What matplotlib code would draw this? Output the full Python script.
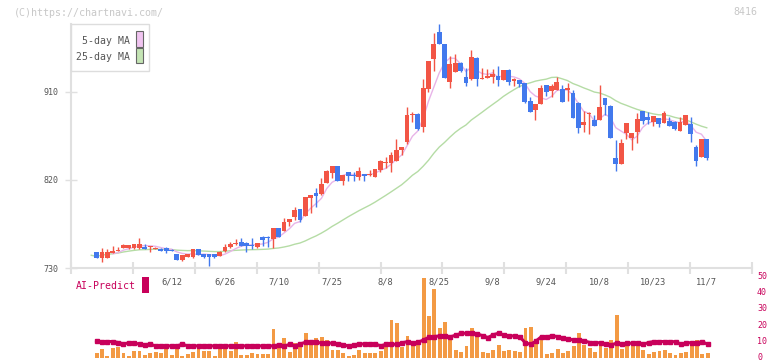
import numpy as np
import pandas as pd
import matplotlib
matplotlib.use("Agg")
import matplotlib.pyplot as plt
from matplotlib.patches import Rectangle

plt.rcParams['font.family'] = ['DejaVu Sans Mono']

# daily candles, 5/22 .. 11/7 (index 0 .. 115)
opens = [743, 746, 740.6, 740.6, 745.3, 747.5, 750.1, 750, 750.1, 750.1,
         751.8, 751.5, 749.8, 749.8, 750.5, 748.5, 744.3, 738.2, 741.6, 740.9,
         749.4, 744, 744, 744, 742.6, 747.5, 751.1, 754.5, 756.6, 755.5,
         754, 751, 762, 762, 760, 770.9, 767.8, 776.7, 781.8, 790.3,
         783.2, 801.9, 806.7, 805.7, 817.3, 827.5, 834.3, 819.3, 827.8, 825.1,
         823.4, 826.1, 825, 823.4, 830.2, 837.7, 837.7, 839.4, 850.7, 858.5,
         886.5, 887.5, 874.5, 913.1, 944.1, 971.7, 959.1, 920.6, 930.8, 940,
         925.3, 923, 945.1, 923.3, 924.7, 925.7, 926.7, 922.3, 932.5, 921.2,
         922.3, 918.9, 901.1, 891.6, 897.7, 917.2, 911.4, 912, 912.7, 912,
         909.3, 899.1, 876.2, 887.2, 881.4, 881.4, 903.5, 895.7, 842.8, 836.7,
         868.4, 863.3, 869.4, 890.9, 884.8, 879.3, 883.1, 878.6, 880.3, 879.7,
         870.4, 876.2, 877.3, 854.1, 843.9, 861.9]
highs = [743, 746.5, 750.8, 749.5, 752.5, 751, 754.2, 753.5, 755, 760.3,
         754.2, 752.5, 751, 750, 751, 749, 744.5, 743.5, 744.5, 749.5,
         749.5, 744.3, 744.3, 744.3, 747, 754.5, 756.9, 759.3, 760.3, 756.9,
         760.3, 756, 762.7, 762.7, 771, 771, 780.8, 780.5, 792, 790.5,
         802.9, 805, 811.5, 821.7, 830, 834.5, 834.5, 825.5, 828, 827.8,
         833, 826.5, 830.2, 831, 840, 843.9, 849, 861.9, 854, 895,
         889.9, 888, 923.3, 942, 970.7, 979.5, 959.5, 946.8, 948.9, 940.5,
         934.9, 953, 945.5, 934.2, 933.5, 933.5, 936.6, 932.8, 933, 924,
         922.5, 919, 904.5, 898, 917.2, 917.5, 918.2, 925.7, 917.2, 919.5,
         912, 899.5, 890.9, 889, 886.5, 917.2, 903.7, 896.7, 860.9, 861.9,
         878.5, 868.5, 888.9, 891, 889.9, 885.7, 883.3, 890.6, 884.8, 880,
         884.8, 886.7, 884.8, 855.8, 862, 862]
lows = [743, 740, 736.5, 740, 745, 747, 750, 749.5, 749, 749.5,
        749.5, 746, 749.5, 747, 745, 747, 738, 737.5, 741, 740.5,
        743, 740.5, 732.4, 740.5, 742, 746.7, 750.5, 754, 752.5, 746.7,
        749.4, 750.5, 752.8, 751.8, 750.5, 762, 767.5, 773.3, 779.1, 777.4,
        783, 785.9, 792.7, 805, 816.6, 822.4, 819, 814.9, 819.3, 819.3,
        820, 818.6, 824.5, 823, 828.5, 832.6, 827.8, 839, 845.6, 856.8,
        879, 871.1, 869.4, 909.7, 931.8, 959, 924.5, 914.4, 930.5, 930.1,
        916.5, 922.5, 916.5, 923, 924.5, 919.5, 916.1, 922, 917.2, 916.1,
        915.4, 899.1, 889.5, 881.4, 897.5, 906.2, 905.2, 911.5, 900, 901.1,
        883.5, 868.4, 869.4, 867, 875.5, 881, 886.5, 863, 829.5, 836.5,
        861.9, 850.7, 858.2, 877.3, 877.3, 875.2, 874.5, 878.5, 875.5, 871.1,
        870, 876, 859.2, 834.3, 843.5, 840.5]
closes = [743, 740.6, 746, 746, 747.4, 748.5, 753.2, 753.2, 754.2, 754.2,
          749.8, 752, 750.8, 747.7, 747.7, 747.7, 738.2, 743.3, 744, 749.4,
          743.3, 740.9, 740.9, 740.9, 746.7, 751.8, 754.2, 755.9, 752.8, 752.8,
          752.8, 755.9, 758.6, 761, 770.5, 762, 776.7, 780.1, 789.3, 779.1,
          802.3, 804.7, 804, 815.9, 829.5, 834.3, 819, 825.1, 824.4, 824.1,
          829.2, 824.4, 825.5, 830.9, 839.4, 838.7, 845.6, 850.7, 853.4, 886.5,
          887.2, 872.2, 914.4, 941.7, 959.1, 959.1, 924.6, 938.6, 940, 931.8,
          919.5, 945.8, 923.3, 924, 926.7, 928.4, 922.3, 932.5, 920.6, 923,
          918.2, 900.1, 889.9, 897.7, 914.1, 909.7, 916.1, 919.9, 900.1, 914.1,
          883.7, 873.5, 879.7, 888.9, 875.6, 895, 896.7, 863.3, 836.7, 858.2,
          878.3, 868.4, 882.4, 880.7, 881.4, 885.5, 877.3, 888.2, 875.6, 872.2,
          879.3, 886.5, 867, 839.4, 861.9, 842.8]

# volume panel, in units of the right axis (0-50)
volume = [0, 3.5, 5.8, 1.4, 6.6, 6.8, 3.1, 1.6, 4.8, 4.8,
          2.1, 3.5, 3.9, 3.3, 6.6, 2.1, 5.8, 1.6, 2.5, 3.9,
          6.6, 4.8, 4.8, 1.6, 6.6, 6.6, 4.8, 10.0, 2.1, 2.1,
          3.5, 2.5, 2.7, 2.7, 18.3, 6.6, 12.9, 3.9, 9.4, 9.2,
          16.0, 9.4, 12.9, 13.3, 11.4, 5.2, 5.2, 3.3, 1.4, 2.1,
          5.2, 3.3, 3.3, 3.3, 4.6, 7.1, 23.9, 22.1, 7.1, 13.9,
          8.1, 9.2, 49.6, 26.4, 43.3, 18.9, 22.7, 12.9, 5.2, 3.9,
          7.7, 18.9, 13.3, 3.9, 3.3, 5.2, 8.3, 4.6, 5.2, 4.6,
          3.9, 18.9, 19.6, 9.6, 13.3, 2.7, 3.3, 5.8, 3.3, 4.6,
          7.7, 15.6, 8.3, 6.4, 3.9, 9.6, 6.4, 11.4, 27.1, 5.8,
          8.3, 7.7, 7.7, 5.2, 2.7, 3.9, 4.6, 5.2, 3.3, 2.1,
          3.3, 3.9, 10.0, 11.4, 2.7, 3.3]
# AI-Predict line, starts at index 1
ai_predict = [10.8, 10.0, 10.4, 10.4, 9.8, 8.9, 9.6, 9.6, 8.7,
              8.5, 8.7, 7.7, 7.7, 7.7, 7.7, 7.7, 8.7, 7.7, 7.7,
              7.7, 7.7, 7.7, 7.7, 7.7, 7.7, 7.7, 7.7, 7.7, 7.7,
              7.7, 7.7, 7.7, 7.7, 7.7, 8.3, 7.5, 8.7, 7.7, 8.9,
              10.0, 10.0, 10.0, 9.4, 9.4, 9.4, 9.0, 8.5, 7.5, 8.3,
              8.9, 8.9, 8.9, 8.9, 7.7, 8.7, 8.7, 8.7, 9.6, 10.4,
              9.4, 10.0, 11.4, 13.1, 13.5, 13.9, 13.9, 13.3, 14.4, 15.4,
              15.6, 15.6, 15.2, 14.0, 12.9, 14.6, 15.6, 14.4, 13.9, 13.9,
              13.1, 9.5, 8.7, 10.8, 13.5, 13.3, 13.9, 13.5, 12.5, 11.9,
              11.4, 11.4, 10.8, 9.8, 9.4, 9.8, 8.9, 8.3, 9.4, 8.7,
              9.2, 9.4, 9.4, 8.7, 9.8, 10.4, 10.4, 10.4, 10.2, 10.4,
              8.7, 9.4, 9.8, 9.8, 10.2, 8.7]

date_labels = ['6/12', '6/26', '7/10', '7/25', '8/8', '8/25', '9/8', '9/24', '10/8', '10/23', '11/7']
date_index = [15, 25, 35, 45, 55, 65, 75, 85, 95, 105, 115]
price_ticks = [730, 820, 910]
vol_ticks = [0, 10, 20, 30, 40, 50]

RED = '#f25545'
BLUE = '#4279ed'
CRIMSON = '#c8005a'
GRAY = '#e0e0e0'

W, H = 772, 361
fig = plt.figure(figsize=(W / 100, H / 100), dpi=100)

def fx(x):
    return x / W

def fy(y):
    return 1 - y / H

# pixel -> day index
x0, step = 91.3, 5.36
def px2k(x):
    return (x - x0) / step

ax = fig.add_axes([fx(70.5), fy(268), (752 - 70.5) / W, (268 - 23.5) / H])
vax = fig.add_axes([fx(70.5), fy(358.3), (752 - 70.5) / W, (358.3 - 277.7) / H])
vax.patch.set_visible(False)
for a in (ax, vax):
    a.set_xlim(px2k(70.5), px2k(752))

idx = np.arange(len(closes))
o = np.array(opens)
c = np.array(closes)
cols = np.where(c >= o, RED, BLUE)

# moving averages
s = pd.Series(closes)
ma5 = s.rolling(5).mean()
ma25 = s.rolling(25, min_periods=1).mean()
ax.plot(idx, ma25, color='#b5dca5', lw=1, zorder=2)
ax.plot(idx, ma5, color='#e8b4e8', lw=1, zorder=2)

# candles
ax.vlines(idx, lows, highs, colors=cols, lw=1.0, zorder=3)
ax.bar(idx, np.maximum(np.abs(c - o), 0.8), bottom=np.minimum(o, c),
       width=0.9, color=cols, zorder=4)

ax.set_ylim(730, 980)
ax.set_yticks(price_ticks)
ax.set_yticklabels([str(t) for t in price_ticks])
ax.tick_params(axis='y', direction='inout', length=8, width=1, color=GRAY,
               labelsize=6, labelcolor='#555555', pad=5)
ax.set_xticks([px2k(71 + 62 * j) for j in range(12)])
ax.set_xticklabels([])
ax.tick_params(axis='x', direction='inout', length=8, width=1.5, color=GRAY)
for side in ('top', 'right'):
    ax.spines[side].set_visible(False)
for side in ('left', 'bottom'):
    ax.spines[side].set_color(GRAY)
    ax.spines[side].set_linewidth(1.5)

for k, lab in zip(date_index, date_labels):
    ax.text(k, -0.0574, lab, transform=ax.get_xaxis_transform(), ha='center',
            va='center', fontsize=6.3, color='#555555', zorder=10)

# volume + AI predict
vax.bar(idx, volume, width=0.72, color='#f39a44', zorder=2)
vax.plot(np.arange(1, len(closes)), ai_predict, color=CRIMSON, lw=2.2,
         marker='s', ms=2.2, zorder=3)
vax.set_ylim(0, 50)
vax.set_yticks([])
vax.set_xticks([])
for sp in vax.spines.values():
    sp.set_visible(False)
for v in vol_ticks:
    yy = 358.3 - 1 - v * (358.3 - 277.7) / 50
    fig.text(fx(757), fy(yy), str(v), fontsize=6, color=CRIMSON,
             ha='left', va='center')

# header texts
fig.text(fx(14), fy(12.5), '(C)https://chartnavi.com/', fontsize=7.2,
         color='#c8c8c8', ha='left', va='center')
fig.text(fx(757), fy(11.7), '8416', fontsize=7.2, color='#c8c8c8',
         ha='right', va='center')
fig.text(fx(75.7), fy(285.7), 'AI-Predict', fontsize=7.1, color=CRIMSON,
         ha='left', va='center')
fig.patches.append(Rectangle((fx(142), fy(292.7)), 7 / W, 16 / H,
                             transform=fig.transFigure, fc=CRIMSON, ec='none'))

# legend box
fig.patches.append(Rectangle((fx(70.5), fy(71)), 78 / W, 47 / H, transform=fig.transFigure,
                             fc='white', ec='#dddddd', lw=1, zorder=5))
fig.patches.append(Rectangle((fx(136.3), fy(46.7)), 6.4 / W, 15.4 / H, transform=fig.transFigure,
                             fc='#f0c4f0', ec='#666666', lw=0.8, zorder=6))
fig.patches.append(Rectangle((fx(136.3), fy(63.3)), 6.4 / W, 15 / H, transform=fig.transFigure,
                             fc='#c4e4b4', ec='#666666', lw=0.8, zorder=6))
fig.text(fx(129.5), fy(41), '5-day MA', fontsize=7.1, color='#555555',
         ha='right', va='center', zorder=7)
fig.text(fx(129.5), fy(57), '25-day MA', fontsize=7.1, color='#555555',
         ha='right', va='center', zorder=7)

fig.savefig('out.png', dpi=100)
